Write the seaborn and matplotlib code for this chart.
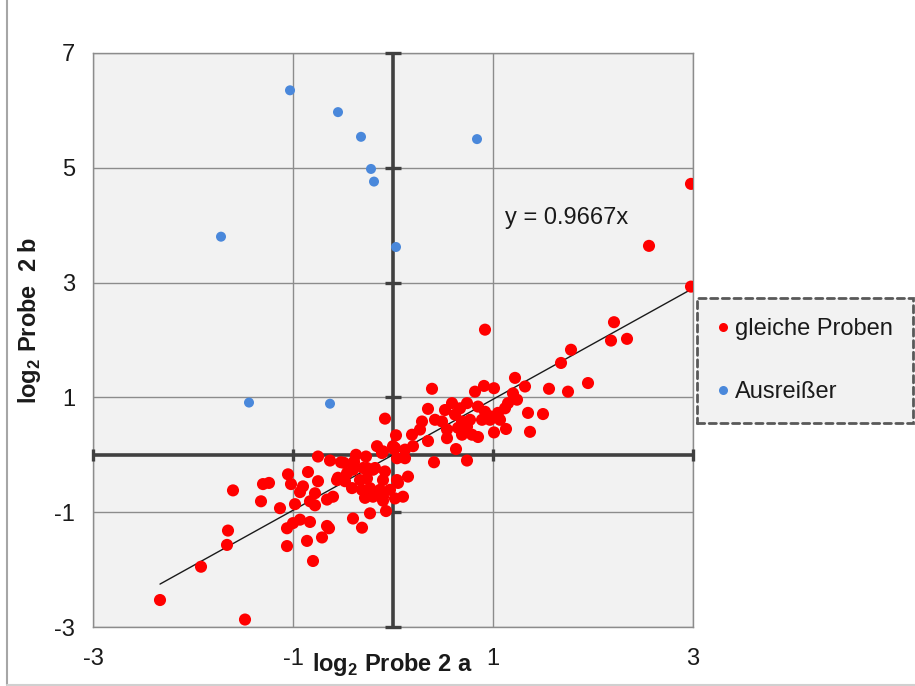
import numpy as np
import pandas as pd
import matplotlib
matplotlib.use("Agg")
import matplotlib.pyplot as plt
import seaborn as sns
from matplotlib.lines import Line2D

# ---------------- data ----------------
gleich_x = [-2.33, -1.48, -1.92, -1.66, -1.65, -1.60, -1.30, -1.24, -1.32, -1.13,
            -1.06, -1.00, -0.93, -0.83, -0.66, -0.64, -1.06, -0.86, -0.71, -0.80,
            -0.40, -0.31, -0.23, -0.07, -1.05, -0.85, -0.75, -1.02, -0.90, -0.93,
            -0.78, -0.98, -0.83, -0.78, -0.66, -0.60, -0.56, -0.55, -0.46, -0.48,
            -0.41, -0.33, -0.26, -0.31, -0.23, -0.18, -0.26, -0.10, -0.03, -0.13,
            -0.28, -0.20, -0.10, -0.10, 0.02, 0.10, 0.04, -0.08, -0.75, -0.63,
            -0.52, -0.37, -0.27, -0.16, -0.11, 0.00, 0.04, -0.08, 0.03, -0.10,
            0.01, -0.39, -0.49, -0.40, -0.30, -0.20, 0.05,
            0.39, 0.82, 0.91, 1.01, 1.22, 1.20, 1.24, 0.35, 0.52, 0.59,
            0.67, 0.74, 0.85, 0.92, 0.97, 1.05, 1.12, 1.15, 0.42, 0.49,
            0.62, 0.69, 0.77, 0.89, 0.97, 1.07, 0.29, 0.27, 0.19, 0.54,
            0.65, 0.74, 0.79, 0.69, 0.54, 0.85, 1.01, 1.13, 0.35, 0.20,
            0.12, 0.02, 0.12, 0.41, 0.63, 0.74, 0.15, 0.92, 1.32, 1.56,
            1.75, 1.95, 1.68, 1.78, 2.21, 2.18, 2.34, 2.98, 1.35, 1.50,
            1.37, 2.98, 2.56]
gleich_y = [-2.53, -2.87, -1.95, -1.57, -1.32, -0.62, -0.51, -0.49, -0.81, -0.93,
            -1.28, -1.19, -1.13, -1.17, -1.24, -1.28, -1.59, -1.50, -1.44, -1.85,
            -1.11, -1.27, -1.02, -0.98, -0.34, -0.30, -0.46, -0.51, -0.55, -0.65,
            -0.67, -0.86, -0.81, -0.88, -0.78, -0.73, -0.44, -0.40, -0.32, -0.46,
            -0.58, -0.44, -0.41, -0.61, -0.58, -0.23, -0.23, -0.44, -0.61, -0.61,
            -0.75, -0.73, -0.73, -0.80, -0.76, -0.73, -0.44, -0.29, -0.03, -0.10,
            -0.13, 0.00, -0.03, 0.15, 0.03, 0.15, -0.06, 0.63, 0.34, 0.06,
            0.10, -0.12, -0.14, -0.26, -0.23, -0.26, -0.49,
            1.15, 1.10, 1.20, 1.16, 1.34, 1.07, 0.96, 0.80, 0.78, 0.90,
            0.81, 0.90, 0.84, 0.75, 0.67, 0.73, 0.81, 0.90, 0.61, 0.58,
            0.70, 0.58, 0.61, 0.61, 0.61, 0.61, 0.58, 0.44, 0.35, 0.44,
            0.47, 0.49, 0.35, 0.35, 0.29, 0.31, 0.39, 0.45, 0.24, 0.15,
            0.09, 0.12, -0.06, -0.13, 0.10, -0.10, -0.38, 2.18, 1.19, 1.15,
            1.10, 1.25, 1.60, 1.83, 2.31, 1.99, 2.02, 2.93, 0.73, 0.71,
            0.40, 4.72, 3.64]

ausreisser_x = [-1.03, -0.55, -0.32, -0.22, -0.19, -1.72, 0.03, 0.84, -1.44, -0.63]
ausreisser_y = [6.35, 5.97, 5.54, 4.98, 4.76, 3.80, 3.62, 5.50, 0.91, 0.89]

slope = 0.9667
x_ticks = [-3, -1, 1, 3]
y_ticks = [-3, -1, 1, 3, 5, 7]
series_names = ["gleiche Proben", "Ausreißer"]
series_colors = ["#ff0000", "#4a88db"]
equation_label = "y = 0.9667x"
x_label = r"log$_{\mathbf{2}}$ Probe 2 a"
y_label = r"log$_{\mathbf{2}}$ Probe  2 b"

# ---------------- style ----------------
sns.set_style("white")
plt.rcParams['font.family'] = ['Liberation Sans', 'DejaVu Sans']
plt.rcParams['axes.unicode_minus'] = False
plt.rcParams['mathtext.fontset'] = 'custom'
plt.rcParams['mathtext.rm'] = 'Liberation Sans'
plt.rcParams['mathtext.bf'] = 'Liberation Sans:bold'

W, H = 915, 686
fig = plt.figure(figsize=(W / 100, H / 100), dpi=100)
fig.patch.set_facecolor("white")
ax = fig.add_axes([93 / W, 1 - 627 / H, 600 / W, 574 / H])
ax.set_facecolor("#f2f2f2")

df = pd.DataFrame({
    "x": gleich_x + ausreisser_x,
    "y": gleich_y + ausreisser_y,
    "Serie": [series_names[0]] * len(gleich_x) + [series_names[1]] * len(ausreisser_x),
})

sns.scatterplot(data=df, x="x", y="y", hue="Serie", size="Serie",
                palette=dict(zip(series_names, series_colors)),
                sizes={series_names[0]: 76, series_names[1]: 52},
                linewidth=0, legend=False, ax=ax, zorder=5)

# trend line y = slope * x over the range of the main series
tx = np.array([min(gleich_x), max(gleich_x)])
sns.lineplot(x=tx, y=slope * tx, color="#1a1a1a", linewidth=1.0, ax=ax, zorder=4)

ax.set_xlim(-3, 3)
ax.set_ylim(-3, 7)
ax.set_xticks(x_ticks)
ax.set_yticks(y_ticks)
ax.grid(True, color="#8c8c8c", linewidth=1.0, zorder=0)
ax.set_axisbelow(True)
for s in ax.spines.values():
    s.set_visible(True)
    s.set_color("#8c8c8c")
    s.set_linewidth(1.0)
ax.tick_params(axis="both", length=0, labelsize=17, labelcolor="#1a1a1a")
ax.tick_params(axis="x", pad=15)
ax.tick_params(axis="y", pad=13)
ax.set_xlabel("")
ax.set_ylabel("")

# crossing axes at zero
axis_col = "#404040"
ax.axhline(0, color=axis_col, linewidth=2.6, zorder=3)
ax.axvline(0, color=axis_col, linewidth=2.6, zorder=3)
ax.plot(x_ticks, [0] * len(x_ticks), ls="none", marker="|", ms=9, mew=2.4,
        color=axis_col, zorder=3, clip_on=False)
ax.plot([0] * len(y_ticks), y_ticks, ls="none", marker="_", ms=11, mew=2.4,
        color=axis_col, zorder=3, clip_on=False)

ax.text(1.12, 4.13, equation_label, fontsize=17, ha="left", va="center",
        color="#1a1a1a", zorder=6)

fig.text(392 / W, 1 - 664 / H, x_label, ha="center", va="center",
         fontsize=17, fontweight="bold", color="#1a1a1a")
fig.text(30 / W, 1 - 320 / H, y_label, ha="center", va="center", rotation=90,
         fontsize=17, fontweight="bold", color="#1a1a1a")

# legend
handles = [Line2D([], [], ls="none", marker="o", ms=6.5, mew=0, color=c)
           for c in series_colors]
leg = fig.legend(handles, series_names, loc="upper left",
                 bbox_to_anchor=(697 / W, 1 - 298 / H), bbox_transform=fig.transFigure,
                 fontsize=17, frameon=True, fancybox=False, borderaxespad=0,
                 handlelength=0.5, handletextpad=0.25, labelspacing=1.75,
                 borderpad=0.85)
frame = leg.get_frame()
frame.set_facecolor("#f2f2f2")
frame.set_alpha(1)
frame.set_edgecolor("#595959")
frame.set_linewidth(2.0)
frame.set_linestyle((0, (2.6, 1.6)))
frame.set_capstyle("round")
for t in leg.get_texts():
    t.set_color("#1a1a1a")

# outer chart border (left and bottom visible)
fig.add_artist(Line2D([7 / W, 7 / W], [1 / H, 1], transform=fig.transFigure,
                      color="#a6a6a6", linewidth=1.5))
fig.add_artist(Line2D([7 / W, 1], [1.5 / H, 1.5 / H], transform=fig.transFigure,
                      color="#d0d0d0", linewidth=1.5))

fig.savefig("out.png", dpi=100)
